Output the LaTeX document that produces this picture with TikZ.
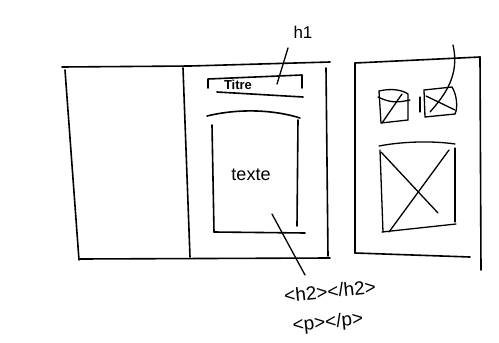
\documentclass[tikz,border=0pt]{standalone}
\usepackage{fontspec}
\setmainfont{Liberation Sans}
\begin{document}
\begin{tikzpicture}[x=1pt,y=-1pt,
  pen/.style={line width=1.6pt,line cap=round,line join=round,black},
  thinpen/.style={line width=1.3pt,line cap=round,black},
  hand/.style={font=\fontsize{15}{15}\selectfont,inner sep=0pt}]
\useasboundingbox (0,0) rectangle (499,343);
% page frame (left + middle panels)
\draw[pen] (62,67) -- (190,66) -- (330,62);
\draw[pen] (65,70) -- (79,260);
\draw[pen] (80,259) -- (330,258);
\draw[pen] (183,68) -- (190,257);
\draw[pen] (326,68) -- (328,256);
% title bar
\draw[pen] (208,88) -- (208,79) -- (302,75) -- (302,88);
\draw[pen] (217,92) -- (303,97);
\node[hand,font=\bfseries\fontsize{13}{13}\selectfont] (titre) at (238,85) {Titre};
% text box
\draw[pen] (207,116) .. controls (240,108) and (275,110) .. (300,118);
\draw[pen] (212,125) -- (214,232);
\draw[pen] (298,120) -- (297,226);
\draw[pen] (214,232) -- (305,233);
\node[hand,font=\fontsize{18}{18}\selectfont] (texte) at (251,175) {texte};
% h1 label
\node[hand,font=\fontsize{17}{17}\selectfont] (h1) at (303,32) {h1};
\coordinate (h1a) at (288,48);
\coordinate (h1b) at (277,84);
\draw[thinpen] (h1a) -- (h1b);
% h2 / p labels
\node[hand,font=\fontsize{19}{19}\selectfont,rotate=6] (h2) at (330,291) {<h2></h2>};
\node[hand,font=\fontsize{19}{19}\selectfont,rotate=6] (p) at (328,323) {<p></p>};
\coordinate (tba) at (272,214);
\coordinate (tbb) at (305,275);
\draw[thinpen] (tba) -- (tbb);
% right panel
\draw[pen] (355,63) -- (480,57);
\draw[pen] (355,63) -- (355,253);
\draw[pen] (355,253) -- (470,257);
\draw[pen] (480,57) -- (481,270);
% small image 1
\draw[thinpen] (379,91) .. controls (392,88) and (402,90) .. (408,94) -- (408,120) -- (381,123) -- cycle;
\draw[thinpen] (382,123) -- (402,94);
\draw[thinpen] (378,97) .. controls (392,104) and (400,102) .. (410,100);
% separator
\draw[thinpen] (420,97) -- (420,112);
% small image 2
\draw[thinpen] (424,90) -- (452,87) .. controls (457,95) and (458,108) .. (455,114) -- (425,117) -- cycle;
\draw[thinpen] (426,96) -- (455,110);
\draw[thinpen] (430,112) .. controls (445,95) and (460,75) .. (453,45);
% big image
\draw[thinpen] (379,146) .. controls (405,141) and (435,141) .. (455,144);
\draw[thinpen] (380,150) -- (383,232);
\draw[thinpen] (455,148) -- (455,222);
\draw[thinpen] (382,232) -- (456,224);
\draw[thinpen] (381,152) -- (438,213);
\draw[thinpen] (449,150) -- (389,232);
\end{tikzpicture}
\end{document}
